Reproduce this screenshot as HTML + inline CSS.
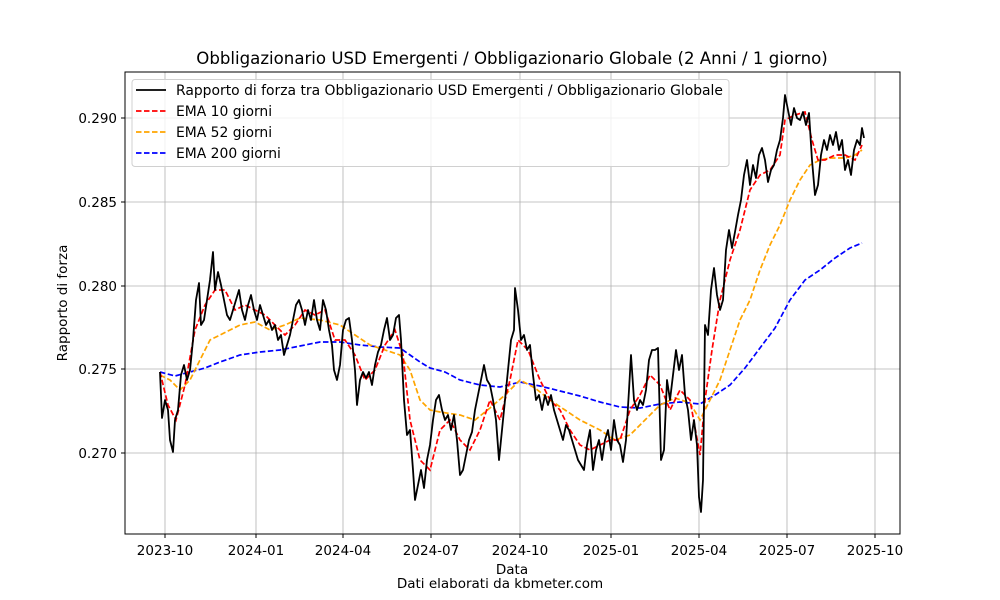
<!DOCTYPE html>
<html><head><meta charset="utf-8"><style>
html,body{margin:0;padding:0;background:#fff;}
svg{display:block;font-family:"DejaVu Sans","Liberation Sans",sans-serif;}
</style></head><body>
<svg width="1000" height="600" viewBox="0 0 1000 600" xmlns="http://www.w3.org/2000/svg">
<rect width="1000" height="600" fill="#fff"/>
<g stroke="#b0b0b0" stroke-width="0.8">
<line x1="165" y1="72" x2="165" y2="534"/><line x1="256" y1="72" x2="256" y2="534"/>
<line x1="343" y1="72" x2="343" y2="534"/><line x1="431" y1="72" x2="431" y2="534"/>
<line x1="520" y1="72" x2="520" y2="534"/><line x1="611" y1="72" x2="611" y2="534"/>
<line x1="699" y1="72" x2="699" y2="534"/><line x1="787" y1="72" x2="787" y2="534"/>
<line x1="875" y1="72" x2="875" y2="534"/>
<line x1="125" y1="118" x2="900" y2="118"/><line x1="125" y1="202" x2="900" y2="202"/>
<line x1="125" y1="286" x2="900" y2="286"/><line x1="125" y1="369" x2="900" y2="369"/>
<line x1="125" y1="453" x2="900" y2="453"/>
</g>
<g fill="none" stroke-width="1.7" stroke-dasharray="5.5,2.5">
<polyline stroke="#0000ff" points="160,372 175,376 190,372 205,368 220,362 240,355 260,352 280,350 300,346 320,342 340,342 360,345 380,347 400,348 410,355 420,362 430,368 445,372 460,380 480,385 500,387 520,382 540,386 560,391 580,396 600,402 620,407 640,408 660,404 680,402 700,404 715,395 730,385 745,368 760,348 775,328 790,300 805,280 820,270 835,258 850,248 862,243"/>
<polyline stroke="#ffa500" points="160,375 170,380 180,390 190,380 200,360 210,340 220,335 230,330 240,325 255,322 270,330 285,325 300,318 320,320 340,325 355,335 370,345 385,350 400,355 410,370 420,400 430,410 440,412 460,415 475,420 490,408 505,395 520,380 535,388 550,400 565,410 580,420 600,430 615,440 630,435 645,420 660,405 675,398 690,403 700,420 710,400 720,380 730,350 740,320 750,300 760,270 770,245 780,225 790,200 800,180 810,165 820,160 830,158 845,158 855,155 862,150"/>
<polyline stroke="#ff0000" points="160,372 168,405 176,420 185,385 195,330 205,305 215,290 225,290 235,310 245,305 255,310 265,315 275,325 285,335 295,325 305,310 315,315 325,310 335,340 345,340 355,355 365,380 375,370 385,345 395,330 403,355 410,420 420,460 430,470 440,430 450,420 460,440 470,450 480,430 490,400 500,420 510,380 518,340 528,350 540,380 550,400 560,410 570,430 580,445 590,450 600,445 610,440 620,440 630,410 640,395 650,375 660,385 670,410 680,390 690,400 700,455 705,400 712,350 720,300 730,260 740,230 750,190 760,175 770,170 780,155 785,120 795,115 805,112 812,140 818,160 825,160 835,155 845,155 855,160 862,145"/>
</g>
<polyline fill="none" stroke="#000" stroke-width="1.8" stroke-linejoin="round" points="160,372 162,418 165,400 168,410 170,440 173,452 175,420 178,410 181,375 184,365 187,380 190,370 193,340 196,300 199,283 201,325 204,320 207,300 210,280 213,252 215,290 218,272 221,285 224,300 227,315 230,320 233,310 236,300 239,290 242,310 245,320 248,305 251,295 254,310 257,320 260,305 263,315 266,325 269,320 272,330 275,325 278,340 281,335 284,355 287,345 290,335 293,320 296,305 299,300 302,310 305,325 308,310 311,320 314,300 317,320 320,330 323,300 326,310 329,330 332,345 334,370 337,380 340,365 343,330 346,320 349,318 352,340 355,370 357,405 360,380 363,372 366,378 369,372 372,385 375,365 378,352 381,345 384,330 387,318 390,340 393,335 396,318 399,315 401,340 404,400 407,435 410,430 413,470 415,500 418,485 421,470 424,488 427,460 430,445 433,420 436,400 439,395 442,410 445,420 448,415 451,430 454,415 457,440 460,475 463,470 466,455 469,440 472,432 475,410 478,395 481,380 484,365 487,380 490,385 493,400 496,420 499,460 502,430 505,400 508,370 511,340 514,330 515,288 518,310 521,340 524,335 527,350 530,345 533,375 536,400 539,395 542,410 545,395 548,405 551,395 554,410 557,420 560,430 563,440 566,425 569,430 572,440 575,450 578,460 581,465 584,470 587,445 590,430 593,470 596,450 599,440 602,460 605,440 608,430 611,450 614,420 617,440 620,445 623,462 626,440 629,390 631,355 634,400 637,410 640,400 643,405 646,390 649,360 652,350 655,350 658,348 661,460 664,450 667,380 670,400 673,375 676,350 679,370 682,355 685,395 688,410 691,440 694,420 697,445 699,497 701,512 703,480 705,325 708,335 711,290 714,268 717,295 720,310 723,300 726,250 729,230 732,248 735,232 738,215 741,200 744,175 747,160 750,185 753,165 756,178 759,155 762,148 765,160 768,182 771,170 774,165 777,150 780,140 783,118 785,95 788,110 791,125 794,108 797,118 800,120 803,112 806,125 809,113 812,160 815,195 818,185 821,155 824,140 827,150 830,135 833,145 836,132 839,150 842,140 845,170 848,160 851,175 854,150 857,140 860,145 862,128 864,138"/>
<rect x="125" y="72" width="775" height="462" fill="none" stroke="#000" stroke-width="1"/>
<g stroke="#000" stroke-width="1">
<line x1="165" y1="534" x2="165" y2="538"/><line x1="256" y1="534" x2="256" y2="538"/>
<line x1="343" y1="534" x2="343" y2="538"/><line x1="431" y1="534" x2="431" y2="538"/>
<line x1="520" y1="534" x2="520" y2="538"/><line x1="611" y1="534" x2="611" y2="538"/>
<line x1="699" y1="534" x2="699" y2="538"/><line x1="787" y1="534" x2="787" y2="538"/>
<line x1="875" y1="534" x2="875" y2="538"/>
<line x1="121" y1="118" x2="125" y2="118"/><line x1="121" y1="202" x2="125" y2="202"/>
<line x1="121" y1="286" x2="125" y2="286"/><line x1="121" y1="369" x2="125" y2="369"/>
<line x1="121" y1="453" x2="125" y2="453"/>
</g>
<g font-size="13.5" fill="#000" text-anchor="middle">
<text x="165" y="555">2023-10</text><text x="256" y="555">2024-01</text>
<text x="343" y="555">2024-04</text><text x="431" y="555">2024-07</text>
<text x="520" y="555">2024-10</text><text x="611" y="555">2025-01</text>
<text x="699" y="555">2025-04</text><text x="787" y="555">2025-07</text>
<text x="875" y="555">2025-10</text>
<text x="512" y="574">Data</text>
<text x="500" y="588">Dati elaborati da kbmeter.com</text>
</g>
<g font-size="13.5" fill="#000" text-anchor="end">
<text x="117" y="123">0.290</text><text x="117" y="207">0.285</text>
<text x="117" y="291">0.280</text><text x="117" y="374">0.275</text>
<text x="117" y="458">0.270</text>
</g>
<text x="67" y="303" font-size="13.5" text-anchor="middle" transform="rotate(-90 67 303)">Rapporto di forza</text>
<text x="512" y="64" font-size="16.6" text-anchor="middle">Obbligazionario USD Emergenti / Obbligazionario Globale (2 Anni / 1 giorno)</text>
<rect x="132" y="79.5" width="597" height="87" rx="3" fill="#fff" fill-opacity="0.8" stroke="#d0d0d0"/>
<line x1="136" y1="90" x2="166" y2="90" stroke="#000" stroke-width="1.8"/>
<line x1="136" y1="111" x2="166" y2="111" stroke="#f00" stroke-width="1.7" stroke-dasharray="5.5,2.5"/>
<line x1="136" y1="132" x2="166" y2="132" stroke="#ffa500" stroke-width="1.7" stroke-dasharray="5.5,2.5"/>
<line x1="136" y1="153" x2="166" y2="153" stroke="#00f" stroke-width="1.7" stroke-dasharray="5.5,2.5"/>
<g font-size="13.9" fill="#000">
<text x="176" y="95">Rapporto di forza tra Obbligazionario USD Emergenti / Obbligazionario Globale</text>
<text x="176" y="116">EMA 10 giorni</text>
<text x="176" y="137">EMA 52 giorni</text>
<text x="176" y="158">EMA 200 giorni</text>
</g>
</svg>
</body></html>
